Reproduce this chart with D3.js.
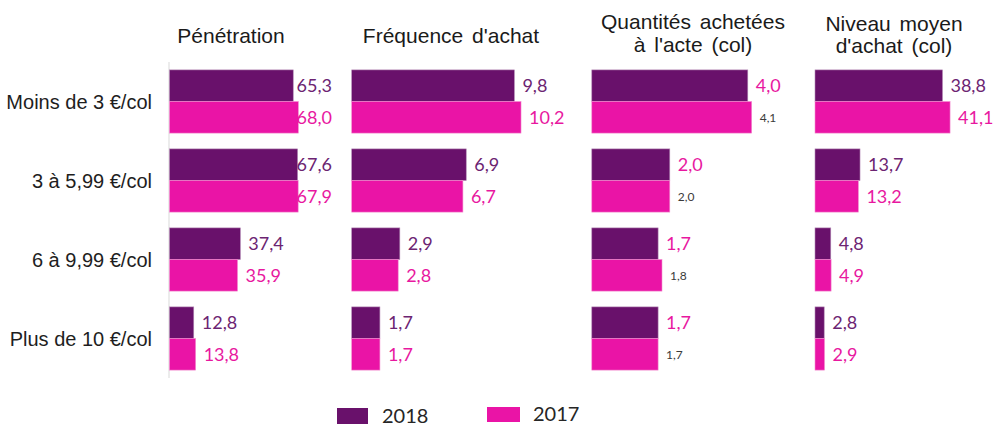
<!DOCTYPE html>
<html>
<head>
<meta charset="utf-8">
<script src="https://cdn.jsdelivr.net/npm/d3@7"></script>
<style>
  html, body { margin: 0; padding: 0; background: #fff; }
  svg { display: block; }
</style>
</head>
<body>
<script>
// Price bands (per colis)
const categories = ["Moins de 3 €/col", "3 à 5,99 €/col", "6 à 9,99 €/col", "Plus de 10 €/col"];
const years = ["2018", "2017"];

// Indicators, one array per year
const penetration2018 = [65.3, 67.6, 37.4, 12.8];
const penetration2017 = [68.0, 67.9, 35.9, 13.8];
const frequence2018 = [9.8, 6.9, 2.9, 1.7];
const frequence2017 = [10.2, 6.7, 2.8, 1.7];
const quantites2018 = [4.0, 2.0, 1.7, 1.7];
const quantites2017 = [4.1, 2.0, 1.8, 1.7];
const niveau2018 = [38.8, 13.7, 4.8, 2.8];
const niveau2017 = [41.1, 13.2, 4.9, 2.9];

const panelTitles = [
  ["Pénétration"],
  ["Fréquence d'achat"],
  ["Quantités achetées", "à l'acte (col)"],
  ["Niveau moyen", "d'achat (col)"]
];

const W = 995, H = 428;
const PURPLE = "#69116b", PINK = "#ea14a6";
const TEXT_PURPLE = "#6c2472", TEXT_PINK = "#e8189f";
const LABEL_FONT = "Lato, 'Open Sans', sans-serif";
const TITLE_FONT = "'Liberation Sans', Arial, sans-serif";

const fr = d3.formatLocale({decimal: ",", thousands: " ", grouping: [3], currency: ["", " €"]});
const fmt = fr.format(".1f");

// Panel layout: where each small bar chart sits and how far it scales
const panels = [
  {title: panelTitles[0], v2018: penetration2018, v2017: penetration2017,
   x0: 169.5, max: 80, width: 151.6, titleX: 231, titleY: [43], labelLimit: 332, axisLine: true},
  {title: panelTitles[1], v2018: frequence2018, v2017: frequence2017,
   x0: 351.7, max: 12, width: 199.2, titleX: 451, titleY: [43]},
  {title: panelTitles[2], v2018: quantites2018, v2017: quantites2017,
   x0: 591.8, max: 5, width: 195, titleX: 693, titleY: [29, 52], altLabels: true},
  {title: panelTitles[3], v2018: niveau2018, v2017: niveau2017,
   x0: 815, max: 50, width: 164.3, titleX: 894, titleY: [31, 53]}
];

const svg = d3.select("body").append("svg")
  .attr("width", W).attr("height", H);

const y = d3.scaleBand().domain(categories).range([62, 378])
  .paddingInner(0.2).paddingOuter(0.1);
const ySub = d3.scaleBand().domain(years).range([0, y.bandwidth()]);

// Category labels
svg.append("g").selectAll("text").data(categories).join("text")
  .attr("x", 152)
  .attr("y", d => y(d) + y.bandwidth() / 2)
  .attr("dy", "0.35em")
  .attr("text-anchor", "end")
  .attr("font-family", TITLE_FONT)
  .attr("font-size", 20)
  .attr("fill", "#1e1e1e")
  .text(d => d);

panels.forEach(p => {
  const x = d3.scaleLinear().domain([0, p.max]).range([p.x0, p.x0 + p.width]);
  const g = svg.append("g");

  // Title
  const t = g.append("text")
    .attr("text-anchor", "middle")
    .attr("font-family", TITLE_FONT)
    .attr("font-size", 21)
    .attr("word-spacing", 3)
    .attr("fill", "#1a1a1a");
  p.title.forEach((line, i) => {
    t.append("tspan").attr("x", p.titleX).attr("y", p.titleY[i]).text(line);
  });

  if (p.axisLine) {
    g.append("line")
      .attr("x1", x(0) - 0.5).attr("x2", x(0) - 0.5)
      .attr("y1", y.range()[0]).attr("y2", y.range()[1])
      .attr("stroke", "#d9d9d9").attr("stroke-width", 1);
  }

  const rows = [];
  categories.forEach((c, i) => {
    rows.push({cat: c, year: "2018", value: p.v2018[i]});
    rows.push({cat: c, year: "2017", value: p.v2017[i]});
  });

  g.selectAll("rect.bar").data(rows).join("rect")
    .attr("class", "bar")
    .attr("x", x(0))
    .attr("y", d => y(d.cat) + ySub(d.year))
    .attr("width", d => x(d.value) - x(0))
    .attr("height", ySub.bandwidth())
    .attr("fill", d => d.year === "2018" ? PURPLE : PINK)
    .attr("stroke", d => d.year === "2018" ? "#b48bb6" : "#f38fd0")
    .attr("stroke-width", 0.6);

  const labels = g.selectAll("text.val").data(rows).join("text")
    .attr("class", "val")
    .attr("x", d => x(d.value) + 8)
    .attr("y", d => y(d.cat) + ySub(d.year) + ySub.bandwidth() / 2)
    .attr("dy", "0.36em")
    .attr("font-family", LABEL_FONT)
    .attr("font-size", d => (p.altLabels && d.year === "2017") ? 12 : 18)
    .attr("fill", d => {
      if (p.altLabels) return d.year === "2018" ? TEXT_PINK : "#3a3a3a";
      return d.year === "2018" ? TEXT_PURPLE : TEXT_PINK;
    })
    .text(d => fmt(d.value));

  // Keep labels inside the plot area when they would overflow it
  if (p.labelLimit) {
    labels.each(function() {
      const bb = this.getBBox();
      if (bb.x + bb.width > p.labelLimit) {
        d3.select(this).attr("x", p.labelLimit - bb.width);
      }
    });
  }
});

// Legend
const legend = svg.append("g");
const legendItems = [
  {year: "2018", color: PURPLE, rx: 337, ry: 408, rw: 31, rh: 16, tx: 382, ty: 423},
  {year: "2017", color: PINK, rx: 487, ry: 407, rw: 33, rh: 15, tx: 533, ty: 421}
];
legendItems.forEach(it => {
  legend.append("rect")
    .attr("x", it.rx).attr("y", it.ry).attr("width", it.rw).attr("height", it.rh)
    .attr("fill", it.color);
  legend.append("text")
    .attr("x", it.tx).attr("y", it.ty)
    .attr("font-family", LABEL_FONT)
    .attr("font-size", 20)
    .attr("fill", "#262626")
    .text(it.year);
});
</script>
</body>
</html>
